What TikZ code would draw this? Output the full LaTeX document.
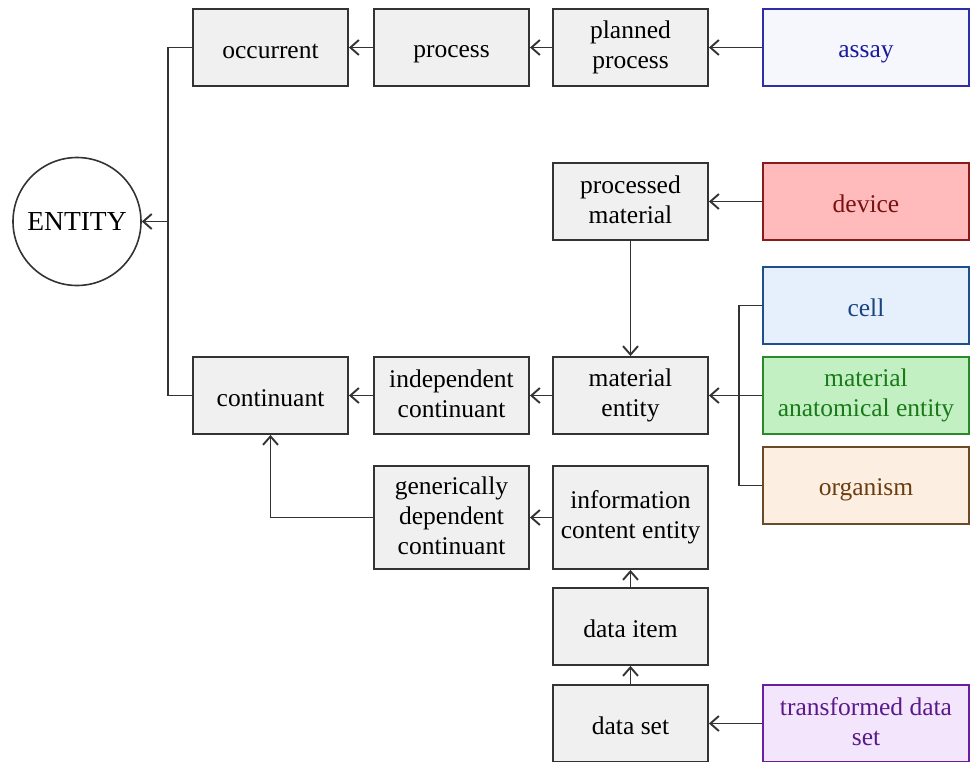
\documentclass[tikz,border=0pt]{standalone}
\usepackage{fontspec}
\setmainfont{Liberation Serif}
\usetikzlibrary{arrows.meta}
\definecolor{edge}{HTML}{333333}
\definecolor{boxfill}{HTML}{F0F0F0}
\definecolor{assayF}{HTML}{F6F7FD}\definecolor{assayD}{HTML}{2E2EAA}\definecolor{assayT}{HTML}{1A1A99}
\definecolor{devF}{HTML}{FFBBBB}\definecolor{devD}{HTML}{8B1A1A}\definecolor{devT}{HTML}{7A1010}
\definecolor{cellF}{HTML}{E6F0FC}\definecolor{cellD}{HTML}{1F4E8C}\definecolor{cellT}{HTML}{1A4480}
\definecolor{maeF}{HTML}{C2F0C2}\definecolor{maeD}{HTML}{2A8A2A}\definecolor{maeT}{HTML}{1A7A1A}
\definecolor{orgF}{HTML}{FDEEE2}\definecolor{orgD}{HTML}{6B4A2A}\definecolor{orgT}{HTML}{6B3E10}
\definecolor{tdsF}{HTML}{F3E6FC}\definecolor{tdsD}{HTML}{6A1FA0}\definecolor{tdsT}{HTML}{5A1A8A}
\newcommand\topstrut{\rule{0pt}{25pt}}
\newcommand\botstrut{\rule[-4pt]{0pt}{4pt}}
\tikzset{
  box/.style={draw=edge, fill=boxfill, line width=1.9pt, minimum width=155pt, minimum height=77pt,
    inner sep=0pt, align=center, font=\fontsize{25.5}{30}\selectfont,
    execute at begin node=\topstrut, execute at end node=\botstrut},
  cbox/.style={box, minimum width=206pt},
  conn/.style={draw=edge, line width=1.9pt},
  arr/.style={conn, -{Straight Barb[length=8.5pt,width=15pt,line width=1.9pt]}},
}
\begin{document}
\begin{tikzpicture}[x=1pt,y=-1pt]
\useasboundingbox (0,0) rectangle (970,761);
% gray boxes
\node[box] (occ) at (270.5,47.5) {occurrent};
\node[box] (proc) at (451.5,47.5) {process};
\node[box] (plan) at (630.5,47.5) {planned\\process};
\node[box] (pm) at (630.5,201.5) {processed\\material};
\node[box] (me) at (630.5,395.5) {material\\entity};
\node[box] (ic) at (451.5,395.5) {independent\\continuant};
\node[box] (cont) at (270.5,395.5) {continuant};
\node[box, minimum height=103pt] (gdc) at (451.5,517.5) {generically\\dependent\\continuant};
\node[box, minimum height=103pt] (ice) at (630.5,517.5) {information\\content entity};
\node[box] (di) at (630.5,626.5) {data item};
\node[box] (ds) at (630.5,723.5) {data set};
% coloured boxes
\node[cbox, fill=assayF, draw=assayD, text=assayT] (assay) at (866,47.5) {assay};
\node[cbox, fill=devF, draw=devD, text=devT] (dev) at (866,201.5) {device};
\node[cbox, fill=cellF, draw=cellD, text=cellT] (cell) at (866,305.5) {cell};
\node[cbox, fill=maeF, draw=maeD, text=maeT] (mae) at (866,395.5) {material\\anatomical entity};
\node[cbox, fill=orgF, draw=orgD, text=orgT] (org) at (866,485.5) {organism};
\node[cbox, fill=tdsF, draw=tdsD, text=tdsT] (tds) at (866,723.5) {transformed data\\set};
% entity
\node[circle, draw=edge, line width=1.6pt, minimum size=128pt, inner sep=0pt,
  font=\fontsize{27.5}{32}\selectfont] (ent) at (77,221.5) {ENTITY};
% junctions
\coordinate (j) at (168,221.5);
\coordinate (k) at (739,395.5);
% connectors
\draw[conn] (occ.west) -| (j);
\draw[conn] (cont.west) -| (j);
\draw[arr] (j) -- (ent.east);
\draw[arr] (proc.west) -- (occ.east);
\draw[arr] (plan.west) -- (proc.east);
\draw[arr] (assay.west) -- (plan.east);
\draw[arr] (dev.west) -- (pm.east);
\draw[arr] (pm.south) -- (me.north);
\draw[conn] (cell.west) -| (k);
\draw[conn] (org.west) -| (k);
\draw[arr] (mae.west) -- (me.east);
\draw[arr] (me.west) -- (ic.east);
\draw[arr] (ic.west) -- (cont.east);
\draw[arr] (gdc.west) -| (cont.south);
\draw[arr] (ice.west) -- (gdc.east);
\draw[arr] (di.north) -- (ice.south);
\draw[arr] (ds.north) -- (di.south);
\draw[arr] (tds.west) -- (ds.east);
\end{tikzpicture}
\end{document}
